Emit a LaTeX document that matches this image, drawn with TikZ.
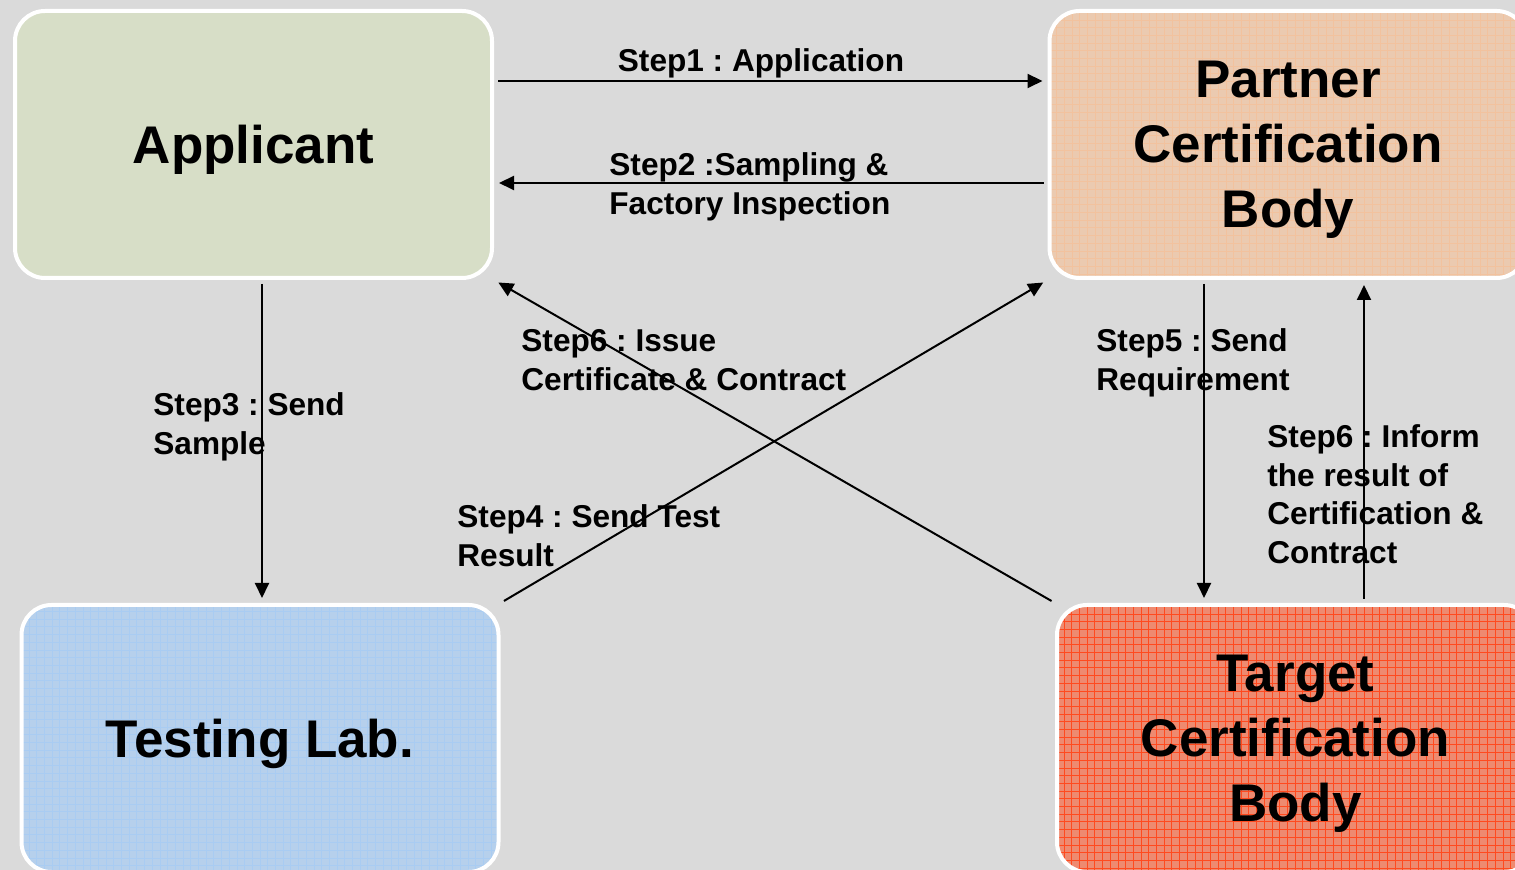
\documentclass[tikz,border=0pt]{standalone}
\usepackage{fontspec}
\setmainfont{Liberation Sans}
\usetikzlibrary{arrows.meta}
\definecolor{canvas}{HTML}{DADADA}
\definecolor{appfill}{HTML}{D7DEC7}
\definecolor{pcbfill}{HTML}{EBCAB0}
\definecolor{pcbgrid}{HTML}{F2C29E}
\definecolor{labfill}{HTML}{B6D0EC}
\definecolor{labgrid}{HTML}{A9CCF2}
\definecolor{tcbfill}{HTML}{EE8A70}
\definecolor{tcbgrid}{HTML}{FF4A1F}
\newcommand{\bigfont}{\fontsize{26.5pt}{32.5pt}\selectfont\bfseries}
\newcommand{\stepfont}{\fontsize{15.8pt}{19.25pt}\selectfont\bfseries}
\frenchspacing

\begin{document}
\begin{tikzpicture}
  [x=0.5pt,y=-0.5pt,
   box/.style={rounded corners=15pt,draw=white,line width=2pt,text depth=0pt,
     minimum width=238.5pt,minimum height=133.5pt,align=center,font=\bigfont},
   boxgrid/.style={path picture={\draw[#1,line width=0.3pt,step=3.85pt]
     (path picture bounding box.south west) grid (path picture bounding box.north east);}},
   steplabel/.style={anchor=base west,align=left,inner sep=0pt,font=\stepfont},
   arr/.style={line width=1pt,-{Triangle[length=7.5pt,width=7pt]},
     shorten <=2pt,shorten >=2.5pt}]
  \useasboundingbox (0,0) rectangle (1515,870);
  \clip (0,0) rectangle (1515,870);
  \fill[canvas] (0,0) rectangle (1515,870);

  \node[box,fill=appfill] (app) at (253.5,144.5) {Applicant};
  \node[box,fill=pcbfill,boxgrid=pcbgrid] (pcb) at (1288,144.5) {Partner\\Certification\\Body};
  \node[box,fill=labfill,boxgrid=labgrid] (lab) at (260,738.5) {Testing Lab.};
  \node[box,fill=tcbfill,boxgrid=tcbgrid] (tcb) at (1295.5,738.5) {Target\\Certification\\Body};

  % labels sit on the baseline of their last line
  \node[steplabel,anchor=base] (s1) at (761,72) {Step1 : Application};
  \node[steplabel] (s2) at (609,214.5) {Step2 :Sampling \&\\Factory Inspection};
  \node[steplabel] (s3) at (153,454.5) {Step3 : Send\\Sample};
  \node[steplabel] (s4) at (457,566.5) {Step4 : Send Test\\Result};
  \node[steplabel] (s6a) at (521,390.5) {Step6 : Issue\\Certificate \& Contract};
  \node[steplabel] (s5) at (1096,390.5) {Step5 : Send\\Requirement};
  \node[steplabel] (s6b) at (1267,563.5) {Step6 : Inform\\the result of\\Certification \&\\Contract};

  \draw[arr] ([yshift=31.75pt]app.east) -- ([yshift=31.75pt]pcb.west);
  \draw[arr] ([yshift=-19.25pt]pcb.west) -- ([yshift=-19.25pt]app.east);
  \draw[arr] ([xshift=4.25pt]app.south) -- ([xshift=4.25pt]app.south |- lab.north);
  \draw[arr] (lab.north east) -- (pcb.south west);
  \draw[arr] (tcb.north west) -- (app.south east);
  \draw[arr] ([xshift=-42pt]pcb.south) -- ([xshift=-42pt]pcb.south |- tcb.north);
  \draw[arr] ([xshift=38pt]pcb.south |- tcb.north) -- ([xshift=38pt]pcb.south);
\end{tikzpicture}
\end{document}
